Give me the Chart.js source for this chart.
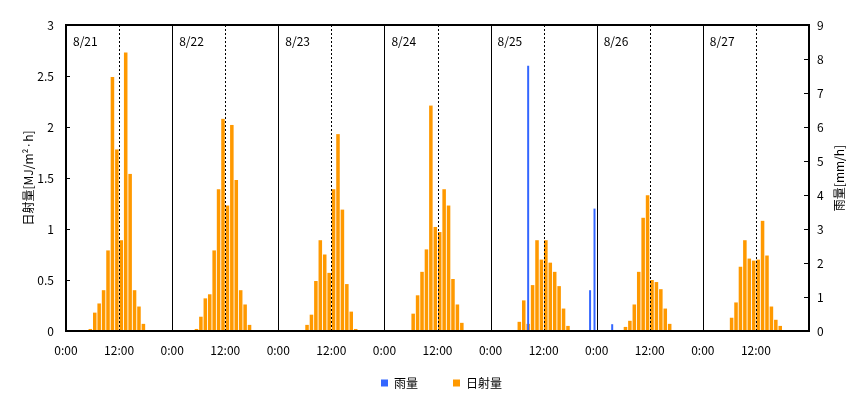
<!DOCTYPE html>
<html><head><meta charset="utf-8">
<script src="https://cdn.jsdelivr.net/npm/chart.js@4/dist/chart.umd.min.js"></script>
<style>html,body{margin:0;padding:0;background:#fff}</style>
</head><body>
<canvas id="c" width="865" height="397"></canvas>
<script>
// ---- data ----
const dates = ['8/21','8/22','8/23','8/24','8/25','8/26','8/27'];
const hourTickLabels = ['0:00','12:00'];
const solarTicks = [0,0.5,1,1.5,2,2.5,3];
const rainTicks = [0,1,2,3,4,5,6,7,8,9];
// hourly solar radiation (MJ/m2·h), hours 0..23
const solar0821 = [0,0,0,0,0,0.02,0.18,0.27,0.40,0.79,2.49,1.78,0.89,2.73,1.54,0.40,0.24,0.07,0,0,0,0,0,0];
const solar0822 = [0,0,0,0,0,0.02,0.14,0.32,0.36,0.79,1.39,2.08,1.23,2.02,1.48,0.40,0.26,0.06,0,0,0,0,0,0];
const solar0823 = [0,0,0,0,0,0,0.06,0.16,0.49,0.89,0.75,0.57,1.39,1.93,1.19,0.46,0.19,0.02,0,0,0,0,0,0];
const solar0824 = [0,0,0,0,0,0,0.17,0.35,0.58,0.80,2.21,1.02,0.97,1.39,1.23,0.51,0.26,0.08,0,0,0,0,0,0];
const solar0825 = [0,0,0,0,0,0.01,0.09,0.30,0.07,0.45,0.89,0.70,0.89,0.67,0.58,0.44,0.22,0.05,0,0,0,0,0,0];
const solar0826 = [0,0,0,0,0,0,0.04,0.10,0.26,0.58,1.11,1.33,0.50,0.48,0.41,0.22,0.07,0,0,0,0,0,0,0];
const solar0827 = [0,0,0,0,0,0,0.13,0.28,0.63,0.89,0.71,0.69,0.70,1.08,0.74,0.24,0.11,0.05,0,0,0,0,0,0];
// hourly rainfall (mm/h)
const rain0821 = [0,0,0,0,0,0,0,0,0,0,0,0,0,0,0,0,0,0,0,0,0,0,0,0];
const rain0822 = [0,0,0,0,0,0,0,0,0,0,0,0,0,0,0,0,0,0,0,0,0,0,0,0];
const rain0823 = [0,0,0,0,0,0,0,0,0,0,0,0,0,0,0,0,0,0,0,0,0,0,0,0];
const rain0824 = [0,0,0,0,0,0,0,0,0,0,0,0,0,0,0,0,0,0,0,0,0,0,0,0];
const rain0825 = [0,0,0,0,0,0,0,0,7.8,0,0,0,0,0,0,0,0,0,0,0,0,0,1.2,3.6];
const rain0826 = [0,0,0,0.2,0,0,0,0,0,0,0,0,0,0,0,0,0,0,0,0,0,0,0,0];
const rain0827 = [0,0,0,0,0,0,0,0,0,0,0,0,0,0,0,0,0,0,0,0,0,0,0,0];

const solarDays = [solar0821,solar0822,solar0823,solar0824,solar0825,solar0826,solar0827];
const rainDays = [rain0821,rain0822,rain0823,rain0824,rain0825,rain0826,rain0827];
const toPoints = days => days.flat().map((v,i)=>({x:i+0.5, y:v}));
const HOURS = dates.length*24;

Chart.defaults.font.family = "'Noto Sans CJK JP','Noto Sans',sans-serif";
Chart.defaults.font.size = 12;
Chart.defaults.color = '#000';

const overlay = {
  id:'overlay',
  afterLayout(chart){
    const lg = chart.legend;
    if (lg){ lg.left += 9; lg.right += 9; lg.top -= 14; }
  },
  afterDatasetsDraw(chart){
    const {ctx, chartArea:a, scales} = chart;
    const x = scales.x, yS = scales.ySolar, yR = scales.yRain;
    ctx.save();
    ctx.strokeStyle = '#000';
    ctx.lineWidth = 1;
    // day boundaries
    for (let d=1; d<dates.length; d++){
      const px = Math.round(x.getPixelForValue(d*24))+0.5;
      ctx.beginPath(); ctx.moveTo(px,a.top); ctx.lineTo(px,a.bottom); ctx.stroke();
    }
    // noon dashed lines
    ctx.setLineDash([2,2]);
    for (let d=0; d<dates.length; d++){
      const px = Math.round(x.getPixelForValue(d*24+12))+0.5;
      ctx.beginPath(); ctx.moveTo(px,a.top); ctx.lineTo(px,a.bottom); ctx.stroke();
    }
    ctx.setLineDash([]);
    // inner ticks
    solarTicks.forEach(v=>{
      const py = Math.round(yS.getPixelForValue(v))+0.5;
      ctx.beginPath(); ctx.moveTo(a.left,py); ctx.lineTo(a.left+4,py); ctx.stroke();
    });
    rainTicks.forEach(v=>{
      const py = Math.round(yR.getPixelForValue(v))+0.5;
      ctx.beginPath(); ctx.moveTo(a.right-5,py); ctx.lineTo(a.right,py); ctx.stroke();
    });
    // plot border
    ctx.lineWidth = 2;
    ctx.strokeRect(a.left, a.top, a.right-a.left, a.bottom-a.top);
    // date labels
    ctx.fillStyle = '#000';
    ctx.font = "12px 'Noto Sans CJK JP','Noto Sans',sans-serif";
    ctx.textBaseline = 'middle';
    ctx.textAlign = 'left';
    dates.forEach((t,d)=>{
      ctx.fillText(t, x.getPixelForValue(d*24)+7, a.top+16);
    });
    // right axis title (reads bottom-to-top)
    ctx.translate(839, (a.top+a.bottom)/2);
    ctx.rotate(-Math.PI/2);
    ctx.textAlign = 'center';
    ctx.fillText('雨量[mm/h]', 0, 0);
    ctx.restore();
  }
};

new Chart(document.getElementById('c'), {
  type:'bar',
  data:{
    datasets:[
      {label:'雨量', data:toPoints(rainDays), yAxisID:'yRain', backgroundColor:'#3366ff',
       grouped:false, categoryPercentage:1, barPercentage:0.45, borderWidth:0},
      {label:'日射量', data:toPoints(solarDays), yAxisID:'ySolar', backgroundColor:'#ff9900',
       grouped:false, categoryPercentage:1, barPercentage:0.8, borderWidth:0}
    ]
  },
  options:{
    responsive:false, animation:false, events:[],
    layout:{padding:{top:25,left:0,right:0,bottom:0}},
    plugins:{
      tooltip:{enabled:false},
      legend:{position:'bottom', maxHeight:41,
        labels:{boxWidth:7, boxHeight:7, padding:35, color:'#000', font:{size:12}}}
    },
    scales:{
      x:{type:'linear', min:0, max:HOURS, offset:false,
        grid:{display:false, drawTicks:false}, border:{display:false},
        afterBuildTicks(s){ s.ticks = []; for(let v=0; v<HOURS; v+=12) s.ticks.push({value:v}); },
        ticks:{autoSkip:false, maxRotation:0, padding:12,
          callback:(v)=> hourTickLabels[(v%24)/12]},
        afterFit(s){ s.height = 25; }
      },
      ySolar:{type:'linear', position:'left', min:0, max:3,
        grid:{display:false, drawTicks:false}, border:{display:false},
        afterBuildTicks(s){ s.ticks = solarTicks.map(v=>({value:v})); },
        ticks:{padding:12, callback:(v)=>String(v)},
        title:{display:true, text:'日射量[MJ/m²·h]', padding:{top:21,bottom:0}, font:{size:12}},
        afterFit(s){ s.width = 66; }
      },
      yRain:{type:'linear', position:'right', min:0, max:9,
        grid:{display:false, drawTicks:false}, border:{display:false},
        afterBuildTicks(s){ s.ticks = rainTicks.map(v=>({value:v})); },
        ticks:{padding:8, callback:(v)=>String(v)},
        afterFit(s){ s.width = 56; }
      }
    }
  },
  plugins:[overlay]
});
</script>
</body></html>
